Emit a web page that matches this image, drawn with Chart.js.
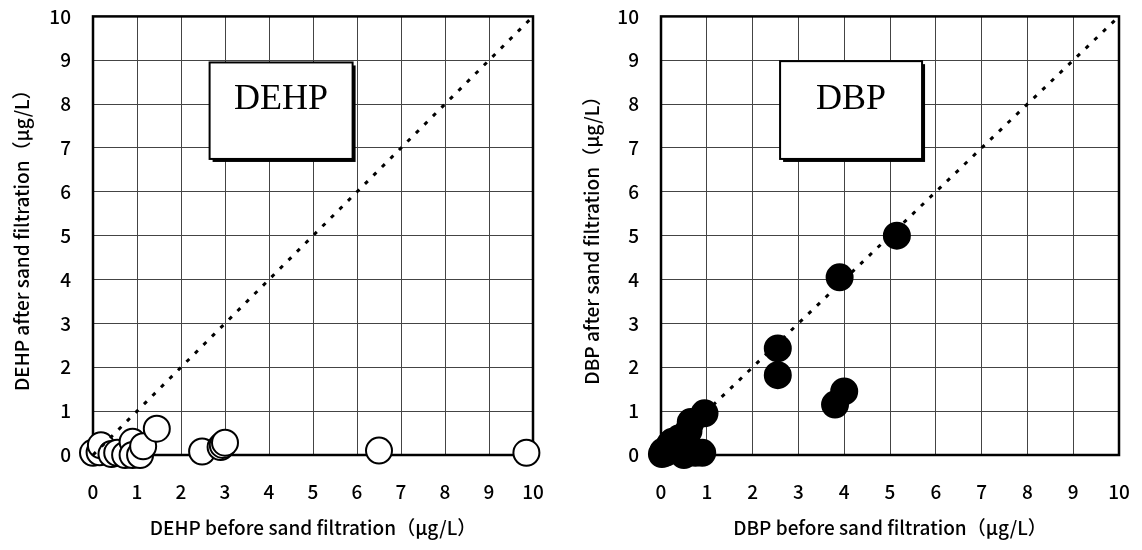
<!DOCTYPE html>
<html lang="en">
<head>
    <meta charset="UTF-8">
    <title>DEHP / DBP sand filtration</title>
    <script src="https://cdn.jsdelivr.net/npm/chart.js"></script>
    <style>
        html, body { margin: 0; background: #fff; overflow: hidden; }
        .painel { position: absolute; top: -17px; height: 567px; }
    </style>
</head>
<body>

    <div class="painel" style="left:0;width:570px"><canvas id="chartDEHP" width="570" height="567"></canvas></div>
    <div class="painel" style="left:570px;width:610px"><canvas id="chartDBP" width="610" height="567"></canvas></div>

<script>
    // DEHP, before / after sand filtration (ug/L) - open circles
    const dehpBefore = [0.0, 0.15, 0.18, 0.42, 0.55, 0.73, 0.9, 0.9, 1.07, 1.14, 1.45, 2.48, 2.9, 2.95, 3.0, 6.5, 9.85];
    const dehpAfter = [0.05, 0.06, 0.22, 0.02, 0.05, 0.0, 0.3, 0.0, 0.0, 0.2, 0.6, 0.08, 0.18, 0.23, 0.28, 0.1, 0.05];

    // DBP, before / after sand filtration (ug/L) - filled circles
    const dbpBefore = [0.02, 0.05, 0.1, 0.15, 0.2, 0.25, 0.3, 0.4, 0.45, 0.5, 0.6, 0.65, 0.75, 0.9, 0.95, 2.55, 2.55, 3.8, 3.9, 4.0, 5.15];
    const dbpAfter = [0.02, 0.08, 0.05, 0.15, 0.25, 0.3, 0.2, 0.38, 0.1, 0.0, 0.55, 0.75, 0.05, 0.05, 0.95, 2.43, 1.82, 1.15, 4.05, 1.45, 5.0];

    // 1:1 line
    const lineX = [0, 10];
    const lineY = [0, 10];

    const axisMin = 0;
    const axisMax = 10;

    const fonte = "'Noto Sans CJK JP', 'DejaVu Sans', sans-serif";

    function pares(xs, ys) {
        return xs.map((x, i) => ({ x: x, y: ys[i] }));
    }

    // frame around the plot area, drawn under the points
    const moldura = {
        id: 'moldura',
        beforeDatasetsDraw(chart) {
            const { ctx, chartArea: a } = chart;
            ctx.save();
            ctx.strokeStyle = '#000';
            ctx.lineWidth = 2.5;
            ctx.strokeRect(a.left, a.top, a.right - a.left, a.bottom - a.top);
            ctx.restore();
        },
        afterDatasetsDraw(chart, args, opts) {
            if (!opts.text) return;
            const { ctx, scales: { x, y } } = chart;
            const l = x.getPixelForValue(opts.x0), r = x.getPixelForValue(opts.x1);
            const t = y.getPixelForValue(opts.y1), b = y.getPixelForValue(opts.y0);
            ctx.save();
            ctx.fillStyle = '#000';
            ctx.fillRect(l + 3, t + 3, r - l, b - t);
            ctx.fillStyle = '#fff';
            ctx.fillRect(l, t, r - l, b - t);
            ctx.strokeStyle = '#000';
            ctx.lineWidth = 2;
            ctx.strokeRect(l, t, r - l, b - t);
            ctx.fillStyle = '#000';
            ctx.font = "36px 'Liberation Serif', 'DejaVu Serif', serif";
            ctx.textAlign = 'center';
            ctx.textBaseline = 'middle';
            ctx.fillText(opts.text, (l + r) / 2, y.getPixelForValue(opts.ty));
            ctx.restore();
        }
    };

    function criarGrafico(id, nome, xs, ys, preenchido, larguraY, direita, caixa) {
        const dados = {
            datasets: [
                {
                    type: 'line',
                    data: pares(lineX, lineY),
                    borderColor: '#000',
                    borderWidth: 3,
                    borderDash: [4, 8],
                    pointRadius: 0,
                    fill: false,
                    clip: false
                },
                {
                    data: pares(xs, ys),
                    pointRadius: 13,
                    pointHoverRadius: 13,
                    pointBorderWidth: 2,
                    pointBorderColor: '#000',
                    pointBackgroundColor: preenchido ? '#000' : '#fff',
                    clip: false
                }
            ]
        };

        const config = {
            type: 'scatter',
            data: dados,
            options: {
                responsive: false,
                animation: false,
                devicePixelRatio: 1,
                layout: { padding: { top: 0, right: direita, left: 0, bottom: 0 } },
                plugins: {
                    legend: { display: false },
                    tooltip: { enabled: false },
                    moldura: caixa
                },
                scales: {
                    x: {
                        type: 'linear',
                        min: axisMin,
                        max: axisMax,
                        afterFit: s => { s.height = 95; },
                        grid: { color: '#444', lineWidth: 1, drawTicks: false },
                        border: { display: false },
                        ticks: {
                            stepSize: 1,
                            padding: 25,
                            color: '#000',
                            maxRotation: 0,
                            font: { family: fonte, size: 19, weight: 500 }
                        },
                        title: {
                            display: true,
                            text: nome + ' before sand filtration（μg/L）',
                            color: '#000',
                            padding: { top: 0, bottom: 11 },
                            font: { family: fonte, size: 19, weight: 500 }
                        }
                    },
                    y: {
                        type: 'linear',
                        min: axisMin,
                        max: axisMax,
                        afterFit: s => { s.width = larguraY; },
                        grid: { color: '#444', lineWidth: 1, drawTicks: false },
                        border: { display: false },
                        ticks: {
                            stepSize: 1,
                            padding: 22,
                            color: '#000',
                            font: { family: fonte, size: 19, weight: 500 }
                        },
                        title: {
                            display: true,
                            text: nome + ' after sand filtration（μg/L）',
                            color: '#000',
                            padding: { top: 10, bottom: 0 },
                            font: { family: fonte, size: 19, weight: 500 }
                        }
                    }
                }
            },
            plugins: [moldura]
        };

        return new Chart(document.getElementById(id), config);
    }

    criarGrafico('chartDEHP', 'DEHP', dehpBefore, dehpAfter, false, 93, 37,
        { text: 'DEHP', x0: 2.65, x1: 5.9, y0: 6.75, y1: 8.95, ty: 8.1 });

    criarGrafico('chartDBP', 'DBP', dbpBefore, dbpAfter, true, 91, 61,
        { text: 'DBP', x0: 2.6, x1: 5.7, y0: 6.75, y1: 8.98, ty: 8.1 });
</script>
</body>
</html>
